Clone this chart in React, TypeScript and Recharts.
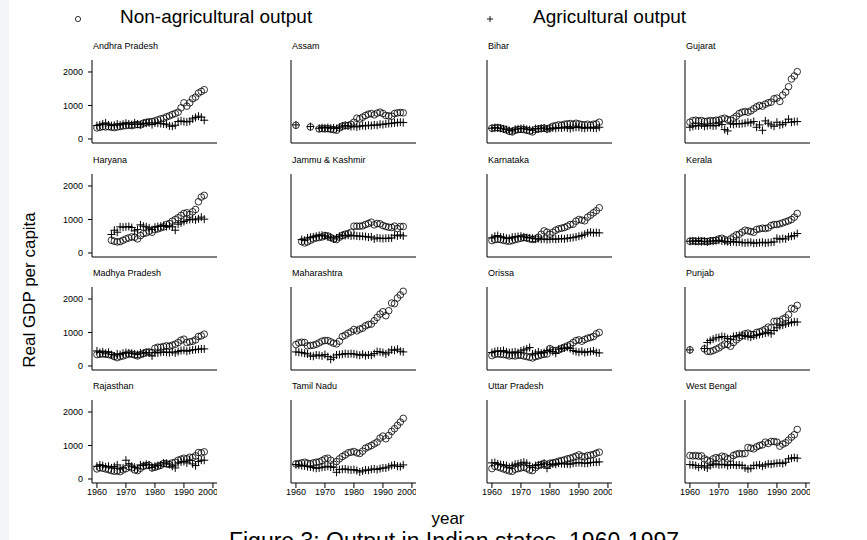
import { Scatter, ScatterChart, XAxis, YAxis } from 'recharts'

const YEARS = [
  1960, 1961, 1962, 1963, 1964, 1965, 1966, 1967, 1968, 1969,
  1970, 1971, 1972, 1973, 1974, 1975, 1976, 1977, 1978, 1979,
  1980, 1981, 1982, 1983, 1984, 1985, 1986, 1987, 1988, 1989,
  1990, 1991, 1992, 1993, 1994, 1995, 1996, 1997,
]
const X_TICKS = [1960, 1970, 1980, 1990, 2000]
const Y_TICKS = [0, 1000, 2000]

const _ = null

const andhraNonAg = [330, 350, 370, 360, 370, 350, 340, 360, 370, 390, 400, 410, 400, 420, 430, 420, 470, 500, 510, 520, 540, 570, 600, 620, 660, 690, 730, 760, 800, 930, 1080, 980, 1080, 1200, 1250, 1370, 1420, 1470]
const andhraAg = [400, 420, 450, 480, 420, 400, 410, 450, 420, 440, 470, 450, 430, 480, 450, 430, 460, 470, 480, 430, 480, 470, 460, 450, 440, 390, 380, 410, 520, 540, 520, 510, 530, 600, 640, 680, 650, 560]
const assamNonAg = [410, _, _, _, _, 360, _, _, 300, 310, 300, 310, 290, 280, 260, 330, 380, 410, 400, 440, 500, 620, 600, 650, 700, 740, 760, 720, 770, 800, 760, 700, 690, 680, 760, 780, 790, 780]
const assamAg = [420, _, _, _, _, 370, _, _, 320, 340, 330, 340, 320, 330, 310, 350, 380, 400, 390, 370, 380, 360, 380, 400, 390, 410, 400, 420, 410, 440, 430, 450, 460, 470, 480, 490, 500, 490]
const biharNonAg = [320, 330, 340, 320, 300, 270, 230, 210, 260, 280, 290, 280, 260, 240, 210, 280, 300, 310, 320, 300, 330, 380, 400, 420, 410, 440, 450, 460, 440, 470, 450, 430, 420, 440, 410, 440, 450, 500]
const biharAg = [320, 340, 330, 320, 300, 280, 250, 240, 290, 300, 310, 320, 290, 280, 260, 310, 300, 320, 330, 290, 310, 330, 320, 340, 330, 350, 330, 310, 340, 350, 350, 330, 320, 340, 340, 330, 320, 350]
const gujaratNonAg = [500, 550, 560, 540, 550, 520, 530, 550, 540, 560, 560, 600, 620, 580, 560, 620, 680, 760, 800, 820, 800, 840, 900, 960, 1000, 980, 1040, 1080, 1100, 1200, 1220, 1120, 1310, 1400, 1560, 1790, 1880, 2010]
const gujaratAg = [350, 380, 400, 390, 420, 380, 400, 410, 390, 400, 480, 430, 280, 240, 450, 440, 460, 450, 460, 470, 500, 480, 520, 350, 420, 260, 540, 470, 420, 380, 500, 420, 440, 490, 590, 500, 520, 520]
const haryanaNonAg = [_, _, _, _, _, 380, 350, 330, 340, 380, 420, 450, 480, 470, 420, 520, 580, 600, 650, 620, 700, 720, 750, 780, 850, 880, 950, 1000, 1050, 1120, 1180, 1200, 1150, 1230, 1300, 1530, 1670, 1720]
const haryanaAg = [_, _, _, _, _, 550, 680, 620, 780, 770, 780, 790, 760, 660, 700, 840, 800, 780, 750, 700, 770, 790, 800, 820, 790, 810, 780, 680, 860, 900, 940, 980, 1000, 1010, 990, 1020, 1070, 1010]
const jkNonAg = [_, _, 340, 300, 330, 380, 420, 450, 460, 480, 520, 510, 460, 420, 400, 470, 520, 560, 580, 620, 800, 800, 800, 810, 850, 880, 920, 840, 880, 870, 820, 790, 770, 760, 800, 730, 790, 790]
const jkAg = [_, _, 400, 380, 450, 470, 480, 500, 520, 530, 510, 480, 470, 420, 450, 500, 530, 520, 530, 510, 520, 510, 500, 500, 490, 470, 480, 420, 450, 440, 430, 440, 440, 450, 530, 510, 540, 510]
const karnatakaNonAg = [370, 400, 410, 400, 380, 360, 350, 370, 400, 420, 440, 460, 450, 420, 400, 420, 470, 560, 660, 620, 560, 620, 680, 720, 740, 760, 800, 850, 860, 950, 1000, 980, 960, 1070, 1130, 1200, 1260, 1350]
const karnatakaAg = [450, 500, 520, 480, 470, 440, 430, 470, 480, 490, 500, 480, 460, 450, 440, 420, 430, 410, 420, 400, 410, 420, 410, 420, 430, 420, 440, 450, 460, 480, 500, 520, 560, 600, 620, 600, 610, 600]
const keralaNonAg = [350, 360, 350, 340, 360, 350, 340, 360, 370, 380, 420, 440, 400, 360, 420, 480, 540, 560, 620, 680, 660, 640, 620, 700, 720, 740, 730, 750, 820, 850, 850, 870, 900, 930, 960, 1000, 1070, 1180]
const keralaAg = [350, 360, 350, 370, 340, 350, 330, 360, 350, 370, 380, 360, 350, 340, 330, 340, 320, 330, 310, 300, 310, 320, 290, 300, 310, 320, 300, 310, 320, 330, 440, 410, 430, 420, 480, 500, 520, 580]
const mpNonAg = [340, 350, 360, 350, 340, 320, 280, 250, 280, 300, 330, 360, 350, 330, 300, 340, 370, 410, 420, 400, 530, 560, 560, 580, 600, 590, 620, 650, 700, 770, 800, 700, 720, 740, 780, 880, 900, 950]
const mpAg = [450, 400, 420, 380, 410, 340, 300, 360, 340, 380, 400, 390, 380, 360, 340, 390, 380, 400, 390, 300, 400, 390, 410, 420, 410, 400, 420, 390, 430, 460, 470, 440, 460, 480, 490, 500, 510, 510]
const maharashtraNonAg = [640, 690, 710, 700, 600, 610, 620, 650, 690, 740, 760, 760, 720, 680, 660, 740, 880, 920, 980, 1020, 1090, 1050, 1100, 1130, 1200, 1240, 1250, 1350, 1450, 1550, 1620, 1500, 1650, 1880, 1860, 2030, 2120, 2230]
const maharashtraAg = [420, 410, 400, 380, 360, 300, 290, 330, 320, 300, 340, 280, 200, 260, 330, 340, 350, 370, 360, 370, 360, 340, 320, 350, 310, 330, 320, 370, 430, 420, 400, 360, 410, 480, 470, 500, 440, 420]
const orissaNonAg = [310, 350, 360, 350, 340, 330, 300, 310, 300, 320, 320, 300, 280, 260, 240, 280, 300, 330, 350, 360, 520, 470, 460, 480, 520, 560, 600, 640, 700, 760, 780, 740, 790, 830, 850, 880, 960, 1000]
const orissaAg = [400, 430, 450, 440, 460, 420, 400, 410, 420, 400, 450, 480, 510, 550, 360, 380, 420, 380, 400, 460, 480, 430, 380, 500, 520, 540, 560, 520, 460, 430, 410, 440, 400, 420, 430, 450, 400, 390]
const punjabNonAg = [480, _, _, _, _, 510, 440, 430, 460, 500, 540, 600, 650, 640, 590, 700, 780, 850, 900, 960, 980, 940, 940, 1000, 1020, 1050, 1100, 1160, 1140, 1330, 1340, 1330, 1400, 1440, 1530, 1720, 1700, 1810]
const punjabAg = [480, _, _, _, _, 520, 700, 760, 800, 840, 850, 880, 870, 820, 800, 880, 900, 910, 920, 900, 880, 860, 900, 920, 940, 960, 980, 1000, 960, 1060, 1140, 1200, 1220, 1250, 1280, 1300, 1320, 1310]
const rajasthanNonAg = [300, 340, 320, 300, 280, 250, 230, 240, 220, 270, 310, 370, 330, 270, 250, 320, 380, 400, 410, 330, 350, 380, 410, 460, 450, 430, 480, 500, 560, 590, 620, 600, 650, 640, 690, 790, 780, 810]
const rajasthanAg = [380, 420, 400, 360, 380, 330, 370, 420, 300, 330, 560, 450, 380, 350, 300, 420, 400, 440, 420, 340, 380, 400, 420, 480, 470, 440, 380, 330, 480, 510, 520, 480, 560, 450, 400, 520, 560, 560]
const tamilNonAg = [450, 460, 480, 500, 470, 450, 480, 500, 510, 550, 600, 620, 560, 440, 520, 600, 670, 720, 780, 800, 820, 780, 760, 830, 920, 960, 1000, 1050, 1100, 1220, 1280, 1200, 1300, 1420, 1500, 1600, 1700, 1810]
const tamilAg = [430, 420, 400, 390, 370, 360, 340, 320, 330, 350, 360, 380, 360, 350, 200, 280, 290, 300, 280, 270, 280, 250, 210, 240, 270, 260, 290, 300, 280, 310, 330, 330, 360, 400, 420, 380, 370, 420]
const upNonAg = [310, 380, 360, 330, 300, 270, 240, 230, 290, 310, 330, 350, 320, 270, 250, 340, 400, 430, 460, 420, 470, 480, 500, 530, 550, 570, 600, 620, 650, 680, 720, 680, 660, 700, 710, 730, 770, 800]
const upAg = [480, 490, 450, 430, 420, 400, 350, 400, 440, 450, 480, 500, 470, 400, 350, 400, 420, 430, 470, 320, 430, 450, 440, 470, 460, 450, 450, 440, 470, 480, 490, 480, 470, 470, 490, 500, 500, 510]
const bengalNonAg = [700, 690, 700, 680, 690, 600, 560, 520, 600, 640, 620, 680, 660, 600, 620, 700, 740, 760, 750, 760, 940, 920, 900, 960, 1000, 1020, 1100, 1060, 1120, 1120, 1100, 980, 1040, 1080, 1160, 1250, 1320, 1480]
const bengalAg = [430, 420, 400, 350, 400, 360, 330, 400, 440, 450, 420, 430, 440, 400, 420, 430, 410, 420, 400, 330, 300, 320, 400, 410, 420, 380, 420, 450, 440, 460, 470, 480, 460, 500, 600, 620, 640, 620]

const STATES: [string, (number | null)[], (number | null)[]][] = [
  ['Andhra Pradesh', andhraNonAg, andhraAg],
  ['Assam', assamNonAg, assamAg],
  ['Bihar', biharNonAg, biharAg],
  ['Gujarat', gujaratNonAg, gujaratAg],
  ['Haryana', haryanaNonAg, haryanaAg],
  ['Jammu & Kashmir', jkNonAg, jkAg],
  ['Karnataka', karnatakaNonAg, karnatakaAg],
  ['Kerala', keralaNonAg, keralaAg],
  ['Madhya Pradesh', mpNonAg, mpAg],
  ['Maharashtra', maharashtraNonAg, maharashtraAg],
  ['Orissa', orissaNonAg, orissaAg],
  ['Punjab', punjabNonAg, punjabAg],
  ['Rajasthan', rajasthanNonAg, rajasthanAg],
  ['Tamil Nadu', tamilNonAg, tamilAg],
  ['Uttar Pradesh', upNonAg, upAg],
  ['West Bengal', bengalNonAg, bengalAg],
]

const FONT = '"Liberation Sans", Arial, Helvetica, sans-serif'
const COL_X = [92, 291, 487, 685]
const ROW_Y = [60, 174, 287, 400]
const AXIS_W = 40
const PLOT_W = 125
const PLOT_H = 83

const points = (values: (number | null)[]) =>
  YEARS.map((year, i) => ({ year, v: values[i] })).filter((p) => p.v != null)

const Ring = (props: any) => <circle cx={props.cx} cy={props.cy} r={3.3} fill="none" stroke="#000" strokeWidth={0.8} />
const Cross = (props: any) => (
  <path d={`M${props.cx - 4},${props.cy}h8M${props.cx},${props.cy - 4}v8`} stroke="#000" strokeWidth={1} fill="none" />
)

function Panel({ name, nonAg, ag, row, col }: { name: string; nonAg: (number | null)[]; ag: (number | null)[]; row: number; col: number }) {
  const tickStyle = { fontSize: 9, fill: '#000', fontFamily: FONT }
  return (
    <>
      <div style={{ position: 'absolute', left: COL_X[col] + 1, top: ROW_Y[row] - 19, fontSize: 9, fontFamily: FONT, color: '#000', whiteSpace: 'nowrap' }}>{name}</div>
      <div style={{ position: 'absolute', left: COL_X[col] - AXIS_W, top: ROW_Y[row] }}>
        <ScatterChart width={AXIS_W + PLOT_W} height={PLOT_H + 20} margin={{ top: 0, right: 0, bottom: 0, left: 0 }}>
          <XAxis
            type="number"
            dataKey="year"
            domain={[1958.3, 2001.4]}
            allowDataOverflow
            ticks={X_TICKS}
            tick={row === 3 ? tickStyle : false}
            tickSize={5}
            tickMargin={1}
            height={20}
            stroke="#000"
            axisLine={{ stroke: '#000' }}
            tickLine={{ stroke: '#000' }}
          />
          <YAxis
            type="number"
            dataKey="v"
            domain={[-120, 2358]}
            allowDataOverflow
            ticks={Y_TICKS}
            tick={col === 0 ? tickStyle : false}
            tickSize={4}
            tickMargin={5}
            width={AXIS_W}
            stroke="#000"
            axisLine={{ stroke: '#000' }}
            tickLine={{ stroke: '#000' }}
          />
          <Scatter data={points(nonAg)} shape={Ring} isAnimationActive={false} />
          <Scatter data={points(ag)} shape={Cross} isAnimationActive={false} />
        </ScatterChart>
      </div>
    </>
  )
}

export default function App() {
  return (
    <div style={{ position: 'absolute', left: 0, top: 0, width: 867, height: 540, background: '#f4f5f9', overflow: 'hidden', fontFamily: FONT }}>
      <div style={{ position: 'absolute', left: 9, top: 0, width: 858, height: 540, background: '#fff' }} />
      <svg style={{ position: 'absolute', left: 0, top: 0 }} width={867} height={40}>
        <circle cx={78} cy={19} r={2.6} fill="none" stroke="#000" strokeWidth={0.8} />
        <path d="M487,19h6M490,16v6" stroke="#000" strokeWidth={0.9} />
      </svg>
      <div style={{ position: 'absolute', left: 120, top: 6, fontSize: 19, color: '#000' }}>Non-agricultural output</div>
      <div style={{ position: 'absolute', left: 533, top: 6, fontSize: 19, color: '#000' }}>Agricultural output</div>
      <div style={{ position: 'absolute', left: 30, top: 290, fontSize: 17, color: '#000', whiteSpace: 'nowrap', transform: 'translate(-50%, -50%) rotate(-90deg)' }}>Real GDP per capita</div>
      {STATES.map(([name, nonAg, ag], i) => (
        <Panel key={name} name={name} nonAg={nonAg} ag={ag} row={Math.floor(i / 4)} col={i % 4} />
      ))}
      <div style={{ position: 'absolute', left: 448, top: 509, fontSize: 17, lineHeight: '19px', color: '#000', transform: 'translateX(-50%)' }}>year</div>
      <div style={{ position: 'absolute', left: 454, top: 528, fontSize: 23, lineHeight: '26px', color: '#000', whiteSpace: 'nowrap', transform: 'translateX(-50%)' }}>Figure 3: Output in Indian states, 1960-1997</div>
    </div>
  )
}
